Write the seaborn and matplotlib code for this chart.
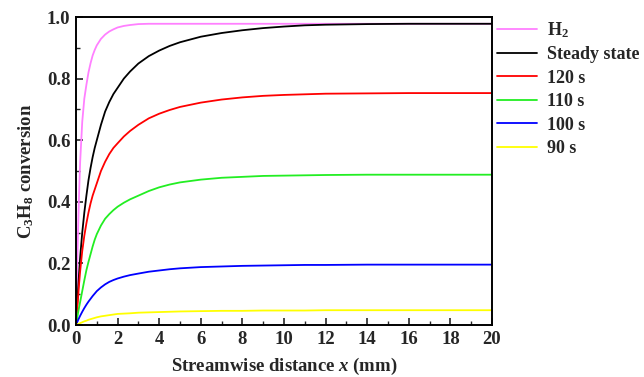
import numpy as np
import pandas as pd
import matplotlib
matplotlib.use("Agg")
import matplotlib.pyplot as plt
from matplotlib.ticker import MultipleLocator
import seaborn as sns

# Streamwise positions (mm)
x_mm = [0, 0.05, 0.1, 0.15, 0.2, 0.3, 0.4, 0.5, 0.6, 0.7, 0.8, 0.9, 1.0, 1.2, 1.4, 1.6, 1.8,
        2.0, 2.3, 2.6, 3.0, 3.5, 4, 4.5, 5, 6, 7, 8, 9, 10, 11, 12, 14, 16, 18, 20]

# C3H8 conversion along the channel for each case
conv_h2 = [0, 0.17, 0.31, 0.43, 0.53, 0.66, 0.735, 0.78, 0.82, 0.85, 0.875, 0.893, 0.908,
           0.929, 0.943, 0.953, 0.960, 0.966, 0.971, 0.974, 0.977, 0.978,
           0.978, 0.978, 0.978, 0.978, 0.978, 0.978, 0.978, 0.978, 0.978, 0.978, 0.978,
           0.978, 0.978, 0.978]
conv_steady = [0, 0.06, 0.115, 0.17, 0.22, 0.30, 0.365, 0.42, 0.47, 0.51, 0.545, 0.575, 0.60,
               0.65, 0.693, 0.724, 0.75, 0.77, 0.80, 0.823, 0.849, 0.873,
               0.891, 0.906, 0.918, 0.936, 0.948, 0.957, 0.964, 0.969, 0.973, 0.975, 0.977,
               0.978, 0.978, 0.978]
conv_120 = [0, 0.045, 0.09, 0.135, 0.175, 0.24, 0.29, 0.33, 0.365, 0.395, 0.42, 0.44, 0.46,
            0.50, 0.53, 0.555, 0.575, 0.59, 0.612, 0.63, 0.65, 0.671,
            0.686, 0.698, 0.708, 0.722, 0.732, 0.739, 0.744, 0.747, 0.749, 0.751, 0.752,
            0.753, 0.753, 0.753]
conv_110 = [0, 0.02, 0.04, 0.058, 0.075, 0.11, 0.145, 0.178, 0.205, 0.23, 0.255, 0.277, 0.295,
            0.323, 0.345, 0.36, 0.373, 0.384, 0.397, 0.408, 0.42, 0.435,
            0.447, 0.456, 0.463, 0.472, 0.478, 0.481, 0.484, 0.485, 0.486, 0.487, 0.488,
            0.488, 0.488, 0.488]
conv_100 = [0, 0.008, 0.016, 0.023, 0.030, 0.043, 0.055, 0.066, 0.076, 0.085, 0.094, 0.102, 0.11,
            0.122, 0.132, 0.140, 0.146, 0.151, 0.157, 0.162, 0.167, 0.173,
            0.177, 0.181, 0.184, 0.188, 0.190, 0.192, 0.193, 0.194, 0.195, 0.195, 0.196,
            0.196, 0.196, 0.196]
conv_90 = [0, 0.0015, 0.003, 0.0045, 0.006, 0.009, 0.012, 0.014, 0.017, 0.019, 0.021, 0.023, 0.025,
           0.028, 0.030, 0.032, 0.034, 0.036, 0.037, 0.038, 0.040, 0.041,
           0.042, 0.043, 0.044, 0.045, 0.046, 0.046, 0.047, 0.047, 0.047, 0.048, 0.048,
           0.048, 0.048, 0.048]

case_labels = ["H$_2$", "Steady state", "120 s", "110 s", "100 s", "90 s"]
case_colors = ["#ff80ff", "#000000", "#ff0000", "#22ee22", "#0000ff", "#ffff00"]
x_ticks = [0, 2, 4, 6, 8, 10, 12, 14, 16, 18, 20]
y_ticks = [0.0, 0.2, 0.4, 0.6, 0.8, 1.0]

series = [conv_h2, conv_steady, conv_120, conv_110, conv_100, conv_90]
df = pd.concat(
    [pd.DataFrame({"x": x_mm, "conv": vals, "case": lab}) for lab, vals in zip(case_labels, series)],
    ignore_index=True,
)

sns.set_theme(style="ticks")
plt.rcParams["font.family"] = ["Liberation Serif", "DejaVu Serif"]
plt.rcParams["font.weight"] = "bold"
plt.rcParams["mathtext.fontset"] = "custom"
plt.rcParams["mathtext.rm"] = "Liberation Serif:bold"
plt.rcParams["mathtext.it"] = "Liberation Serif:italic:bold"
plt.rcParams["mathtext.bf"] = "Liberation Serif:bold"

fig = plt.figure(figsize=(6.44, 3.77), dpi=100)
ax = fig.add_axes([76 / 644, 52 / 377, 416 / 644, 308 / 377])

sns.lineplot(data=df, x="x", y="conv", hue="case", hue_order=case_labels,
             palette=dict(zip(case_labels, case_colors)), linewidth=1.3, ax=ax)

ax.set_xlim(0, 20)
ax.set_ylim(0, 1.0)
ax.set_xticks(x_ticks)
ax.set_yticks(y_ticks)
ax.set_xticklabels([str(t) for t in x_ticks])
ax.set_yticklabels([f"{t:.1f}" for t in y_ticks])
ax.xaxis.set_minor_locator(MultipleLocator(1))
ax.yaxis.set_minor_locator(MultipleLocator(0.1))
ax.tick_params(which="major", direction="in", length=5, width=1.2, labelsize=13.5,
               top=False, right=False, pad=4)
ax.tick_params(which="minor", direction="in", length=3, width=1.0, top=False, right=False)
for sp in ax.spines.values():
    sp.set_visible(True)
    sp.set_linewidth(1.4)
    sp.set_color("black")
for lbl in ax.get_xticklabels() + ax.get_yticklabels():
    lbl.set_fontweight("bold")

ax.set_xlabel("Streamwise distance $x$ (mm)", fontsize=13.5, fontweight="bold", labelpad=6)
ax.set_ylabel("$\\mathrm{C_3H_8}$ conversion", fontsize=13.5, fontweight="bold", labelpad=8)

leg = ax.legend(loc="upper left", bbox_to_anchor=(1.012, 0.99), frameon=False,
                fontsize=13, handlelength=2.2, handletextpad=0.55, labelspacing=0.36,
                borderaxespad=0.0, borderpad=0.0, title=None)
for t in leg.get_texts():
    t.set_fontweight("bold")

fig.savefig("out.png", dpi=100)
